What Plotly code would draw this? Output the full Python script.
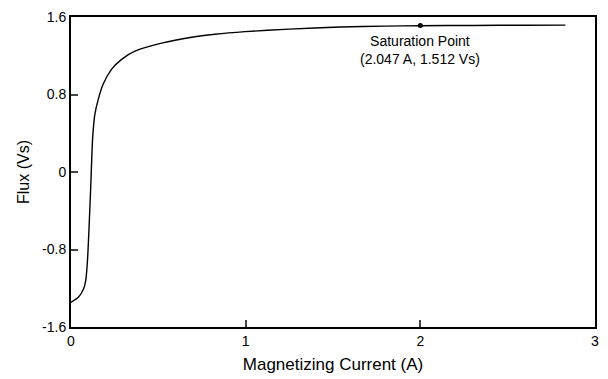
import plotly.graph_objects as go

current_a = [0.0, 0.042, 0.071, 0.084, 0.094, 0.103, 0.113, 0.124, 0.137, 0.156,
             0.185, 0.233, 0.290, 0.366, 0.519, 0.691, 0.824, 0.996, 1.25, 1.54,
             1.80, 2.0, 2.3, 2.6, 2.83]
flux_vs = [-1.345, -1.294, -1.21, -1.126, -0.924, -0.588, -0.15, 0.355, 0.60, 0.75,
           0.91, 1.062, 1.163, 1.247, 1.33, 1.391, 1.422, 1.449, 1.475, 1.497,
           1.506, 1.510, 1.513, 1.515, 1.516]

sat_x = [2.0]
sat_y = [1.512]
sat_label = "Saturation Point<br>(2.047 A, 1.512 Vs)"

x_ticks = [0, 1, 2, 3]
y_ticks = [-1.6, -0.8, 0, 0.8, 1.6]
y_tick_text = ["-1.6", "-0.8", "0", "0.8", "1.6"]

FONT = "Liberation Sans, Arial, Helvetica"

fig = go.Figure()
fig.add_trace(go.Scatter(x=current_a, y=flux_vs, mode="lines",
                         line=dict(color="black", width=1.4, shape="spline", smoothing=0.6),
                         showlegend=False, hoverinfo="skip"))
fig.add_trace(go.Scatter(x=sat_x, y=sat_y, mode="markers",
                         marker=dict(color="black", size=5), showlegend=False))
fig.add_annotation(x=sat_x[0], y=1.26, text=sat_label, showarrow=False,
                   font=dict(family=FONT, size=14, color="black"),
                   xanchor="center", yanchor="middle")

fig.update_layout(
    width=600, height=371,
    margin=dict(l=63, r=13, t=9, b=52, autoexpand=False),
    paper_bgcolor="white", plot_bgcolor="white",
    font=dict(family=FONT, size=14, color="black"),
    xaxis=dict(range=[0, 3], tickvals=x_ticks, ticks="inside", ticklen=7, tickwidth=1.5,
               showline=True, linecolor="black", linewidth=2, mirror=True, showgrid=False,
               zeroline=False, automargin=False, ticklabeloverflow="allow",
               title=dict(text="Magnetizing Current (A)", font=dict(size=17), standoff=10),
               tickfont=dict(size=14)),
    yaxis=dict(range=[-1.6, 1.6], tickvals=y_ticks, ticktext=y_tick_text, ticks="inside",
               ticklen=7, tickwidth=1.5, showline=True, linecolor="black", linewidth=2,
               mirror=True, showgrid=False, zeroline=False, automargin=False,
               ticklabeloverflow="allow",
               title=dict(text="Flux (Vs)", font=dict(size=16), standoff=8),
               tickfont=dict(size=14)),
)
fig.write_html("out.html")
